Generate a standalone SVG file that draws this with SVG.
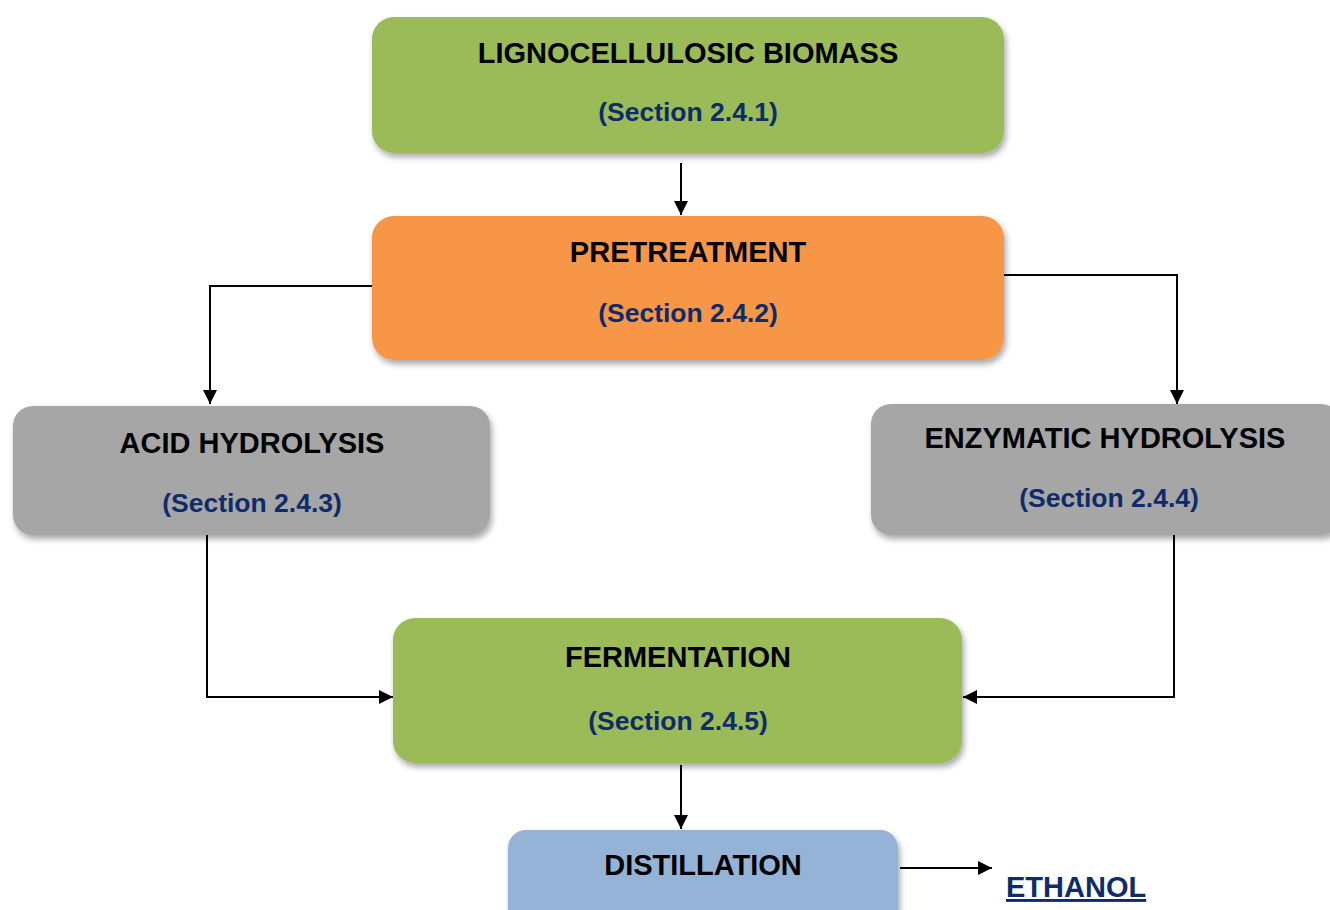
<svg xmlns="http://www.w3.org/2000/svg" width="1330" height="910" viewBox="0 0 1330 910">
<defs>
<filter id="sh" x="-10%" y="-20%" width="120%" height="150%">
<feGaussianBlur in="SourceAlpha" stdDeviation="3"/>
<feOffset dx="2" dy="4" result="b"/>
<feComponentTransfer><feFuncA type="linear" slope="0.35"/></feComponentTransfer>
<feMerge><feMergeNode/><feMergeNode in="SourceGraphic"/></feMerge>
</filter>
<marker id="ah" viewBox="0 0 14 14" refX="14" refY="7" markerWidth="14" markerHeight="14" markerUnits="userSpaceOnUse" orient="auto">
<path d="M0,0 L14,7 L0,14 z" fill="#000"/>
</marker>
</defs>
<style>
.t{font-family:"Liberation Sans",Arial,sans-serif;font-weight:bold;font-size:29px;fill:#000;text-anchor:middle}
.s{font-family:"Liberation Sans",Arial,sans-serif;font-weight:bold;font-size:26.5px;fill:#0E2C6B;text-anchor:middle}
.c{fill:none;stroke:#000;stroke-width:2}
</style>
<rect width="1330" height="910" fill="#fff"/>
<g id="connectors">
<path class="c" d="M681,163 V215" marker-end="url(#ah)"/>
<path class="c" d="M372,286 H210 V404" marker-end="url(#ah)"/>
<path class="c" d="M1004,275 H1177 V404" marker-end="url(#ah)"/>
<path class="c" d="M207,535 V697 H393" marker-end="url(#ah)"/>
<path class="c" d="M1174,535 V697 H963" marker-end="url(#ah)"/>
<path class="c" d="M681,765 V829" marker-end="url(#ah)"/>
<path class="c" d="M900,868 H992" marker-end="url(#ah)"/>
</g>
<g id="biomass">
<rect x="372" y="17" width="632" height="136" rx="22" fill="#9BBB59" filter="url(#sh)"/>
<text class="t" x="688" y="63">LIGNOCELLULOSIC BIOMASS</text>
<text class="s" x="688" y="121">(Section 2.4.1)</text>
</g>
<g id="pretreatment">
<rect x="372" y="216" width="632" height="144" rx="22" fill="#F79646" filter="url(#sh)"/>
<text class="t" x="688" y="262">PRETREATMENT</text>
<text class="s" x="688" y="322">(Section 2.4.2)</text>
</g>
<g id="acid">
<rect x="13" y="406" width="477" height="129" rx="20" fill="#A6A6A6" filter="url(#sh)"/>
<text class="t" x="252" y="453">ACID HYDROLYSIS</text>
<text class="s" x="252" y="512">(Section 2.4.3)</text>
</g>
<g id="enzymatic">
<rect x="871" y="404" width="470" height="131" rx="20" fill="#A6A6A6" filter="url(#sh)"/>
<text class="t" x="1105" y="448">ENZYMATIC HYDROLYSIS</text>
<text class="s" x="1109" y="507">(Section 2.4.4)</text>
</g>
<g id="fermentation">
<rect x="393" y="618" width="569" height="145" rx="22" fill="#9BBB59" filter="url(#sh)"/>
<text class="t" x="678" y="667">FERMENTATION</text>
<text class="s" x="678" y="730">(Section 2.4.5)</text>
</g>
<g id="distillation">
<rect x="508" y="830" width="390" height="110" rx="18" fill="#95B3D7" filter="url(#sh)"/>
<text class="t" x="703" y="875">DISTILLATION</text>
</g>
<g id="ethanol">
<text x="1006" y="897" font-family="Liberation Sans,Arial,sans-serif" font-weight="bold" font-size="29" fill="#0E2C6B" text-decoration="underline">ETHANOL</text>
</g>
</svg>
